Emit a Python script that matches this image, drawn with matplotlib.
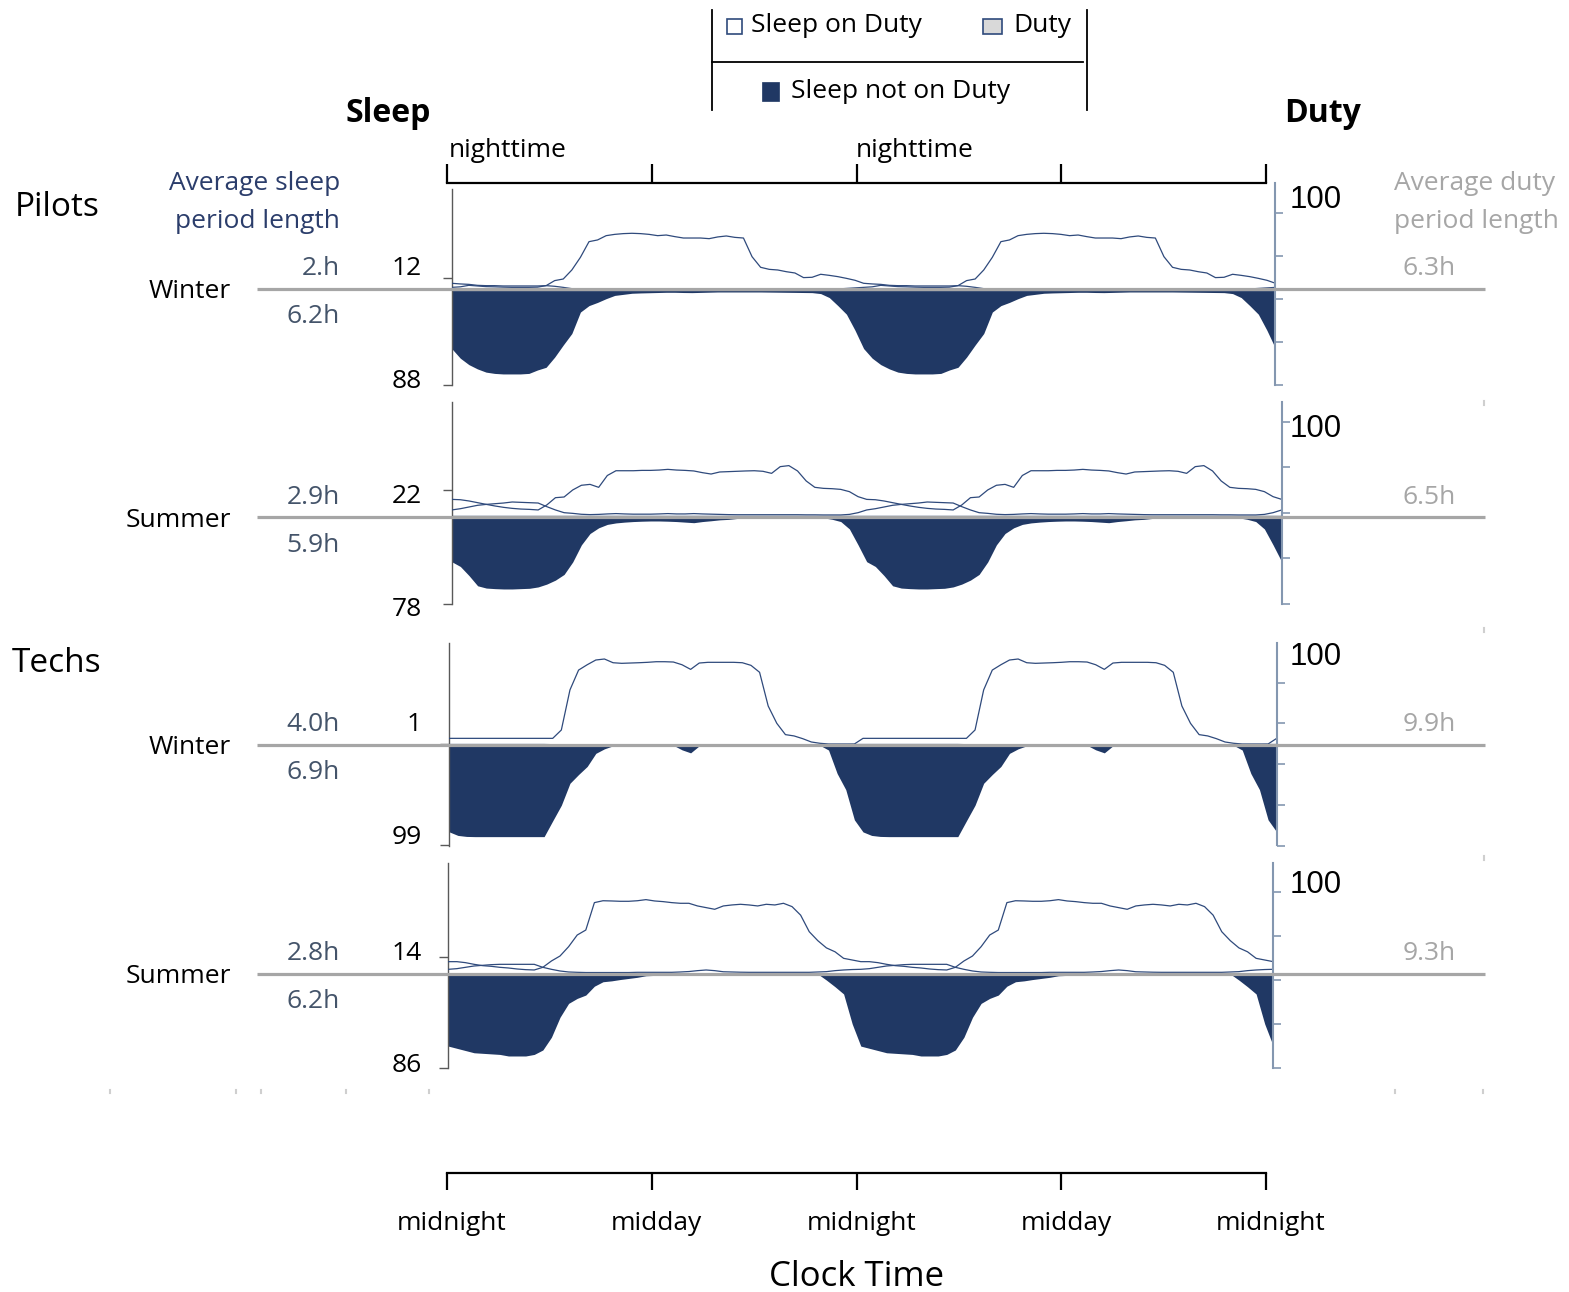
import numpy as np
import matplotlib
matplotlib.use("Agg")
import matplotlib.pyplot as plt
from matplotlib.patches import Rectangle
from matplotlib.transforms import ScaledTranslation

plt.rcParams['font.family'] = ['Open Sans', 'DejaVu Sans']

# ---------------- data (percent of people, 30-min bins, one day; chart is double-plotted) -------------
hours = np.arange(0, 24, 0.5)

pilots_winter_not_on_duty = [54, 63, 69, 73, 76, 77.2, 77.7, 77.7, 77.7, 77.2, 74, 71.5, 62, 50.7, 40, 20,
                             14, 11, 7.5, 4.5, 3.5, 2.5, 2.2, 2, 1.8, 1.6, 1.6, 1.8, 1.9, 1.7, 1.5, 1.3,
                             1.3, 1.3, 1.3, 1.3, 1.3, 1.4, 1.5, 1.6, 1.7, 1.8, 1.9, 2.8, 6.5, 14, 22, 37]
pilots_winter_on_duty = [3.0, 3.5, 4.9, 4.3, 3.7, 3.5, 3.2, 3.0, 3.0, 3.0, 3.2, 4.6, 4.0, 3.0, 1.8, 1.2,
                         0.6, 0.5, 0.5, 0.5, 0.5, 0.3, 0.3, 0.5, 0.5, 0.5, 0.5, 0.8, 1.5, 1.2, 0.5, 0.5,
                         0.5, 0.8, 0.8, 0.5, 0.5, 0.5, 0.5, 0.5, 0.5, 0.5, 0.5, 0.8, 1.0, 1.5, 2.0, 2.5]
pilots_winter_duty = [6.8, 6.2, 5.8, 4.9, 4.6, 4.6, 4.3, 4.3, 4.3, 4.3, 4.3, 4.6, 9.3, 10.8, 19.2, 31,
                      45.6, 47.2, 51.2, 52.4, 53.1, 53.4, 53.1, 52.4, 51.2, 51.8, 50.3, 49, 49, 49, 48.4, 50,
                      50.9, 49.6, 49, 31.6, 21.7, 19.8, 19.2, 17.6, 16.4, 12.1, 12.4, 15.2, 14.2, 13, 11.4, 9.6]

pilots_summer_not_on_duty = [40.8, 45, 53, 62, 64, 64.5, 64.8, 64.8, 64.5, 64.2, 63, 60.5, 57, 52, 41, 26,
                             16, 11, 8, 6.7, 6, 5.5, 5.2, 5, 5, 5.2, 5.5, 6, 6.5, 5.5, 4.8, 4,
                             3.6, 2.8, 2, 1.6, 1.3, 1.2, 1.2, 1.2, 1.2, 1.2, 1.5, 2.2, 3.5, 5.5, 12, 26]
pilots_summer_on_duty = [4.7, 5.8, 7.3, 8.8, 9.6, 10.2, 10.8, 11.7, 11.4, 11.1, 10.8, 7.6, 4.7, 2.3, 1.7, 0.9,
                         0.6, 0.8, 1.2, 1.5, 1.2, 1.0, 1.0, 1.0, 1.2, 1.5, 1.2, 1.2, 1.5, 1.2, 1.0, 0.8,
                         0.6, 0.5, 0.5, 0.5, 0.5, 0.5, 0.5, 0.5, 0.5, 0.4, 0.4, 0.3, 0.3, 0.3, 0.8, 2.3]
pilots_summer_duty = [14.0, 13.7, 12.6, 11.1, 9.6, 8.2, 7.0, 6.1, 5.5, 5.2, 4.7, 9.1, 15.5, 16.1, 22.3, 26.4,
                      27.2, 24.6, 35, 39.2, 39.2, 39.2, 39.5, 39.5, 39.8, 40.4, 39.8, 39.5, 39, 37.5, 36.3, 38.1,
                      38.4, 38.7, 39, 39.2, 38.7, 36.9, 42.8, 43.7, 39, 30.2, 24.6, 23.7, 23.4, 22.8, 20.8, 16.4]

techs_winter_not_on_duty = [86, 89.5, 90.5, 90.7, 90.7, 90.7, 90.7, 90.7, 90.7, 90.7, 90.7, 90.7, 75, 59.5, 37.7, 29,
                            21, 8, 3.5, 0.5, 0, 0, 0, 0, 0, 0, 0, 4.5, 7.5, 0.5, 0, 0,
                            0, 0, 0, 0, 0, 0, 0, 0, 0, 0, 0, 0, 4.7, 28, 44, 74]
techs_winter_on_duty = [0.8, 0.8, 0.8, 0.8, 0.8, 0.8, 0.8, 0.8, 0.8, 0.8, 0.8, 0.8, 0.6, 0.3, 0.1, 0.1,
                        0.1, 0.1, 0.1, 0.1, 0.1, 0.1, 0.1, 0.1, 0.1, 0.1, 0.1, 0.1, 0.1, 0.1, 0.1, 0.1,
                        0.1, 0.1, 0.1, 0.1, 0.1, 0.1, 0.1, 0.1, 0.1, 0.1, 0.1, 0.1, 0.3, 0.5, 0.6, 0.8]
techs_winter_duty = [6.9, 6.9, 6.9, 6.9, 6.9, 6.9, 6.9, 6.9, 6.9, 6.9, 6.9, 6.9, 6.9, 15.2, 55, 74.7,
                     80, 84.7, 85.7, 82, 81.4, 81.7, 82, 82.4, 83, 83, 82.7, 80, 75.4, 81.7, 82.4, 82.4,
                     82.4, 82.4, 82, 79.4, 72.5, 39, 21.8, 10.6, 9.3, 6.6, 3.3, 2, 1.3, 1.3, 1.3, 1.3]

techs_summer_not_on_duty = [66, 68, 70, 72, 72.5, 73, 73.5, 74.9, 74.9, 74.9, 73.5, 69.5, 58, 40, 27.5, 23,
                            20, 12, 8, 7.2, 6, 5, 4, 2.6, 2.3, 2, 2, 2, 2, 1.8, 1.8, 1.8,
                            1.8, 1.8, 1.8, 1.8, 1.8, 1.8, 1.8, 1.8, 1.8, 1.5, 1.2, 1, 6.5, 12.5, 19, 46]
techs_summer_on_duty = [3.2, 3.8, 5, 6.2, 6.8, 7.4, 7.7, 7.7, 7.7, 7.7, 7.7, 5, 3.2, 1.7, 0.8, 0.5,
                        0.3, 0.3, 0.3, 0.3, 0.3, 0.3, 0.5, 0.5, 0.5, 0.5, 0.5, 0.8, 1.2, 2.0, 2.6, 2.0,
                        1.0, 0.8, 0.6, 0.5, 0.5, 0.5, 0.5, 0.5, 0.5, 0.5, 0.5, 0.8, 1.1, 2.0, 2.6, 3.0]
techs_summer_duty = [10.1, 10.1, 9.2, 7.7, 6.5, 5.9, 5, 4.4, 3.5, 2.9, 2.6, 5, 10.7, 15.2, 23.6, 34.1,
                     38.6, 63.3, 65, 64.8, 64.5, 64.5, 65, 66, 64.8, 64.2, 63.3, 62.7, 62.7, 60.3, 58.8, 57.3,
                     60.3, 61.2, 61.8, 61.2, 60.3, 61.8, 61.2, 62.7, 59.7, 52, 37.1, 29, 22.5, 19, 13.1, 11.6]

groups = ["Pilots", "Techs"]
seasons = ["Winter", "Summer", "Winter", "Summer"]
left_tick_values = [(12, 88), (22, 78), (1, 99), (14, 86)]
sleep_len_labels = [("2.h", "6.2h"), ("2.9h", "5.9h"), ("4.0h", "6.9h"), ("2.8h", "6.2h")]
duty_len_labels = ["6.3h", "6.5h", "9.9h", "9.3h"]
clock_ticks = [0, 12, 24, 36, 48]
clock_labels = ["midnight", "midday", "midnight", "midday", "midnight"]

series = [
    (pilots_winter_not_on_duty, pilots_winter_on_duty, pilots_winter_duty),
    (pilots_summer_not_on_duty, pilots_summer_on_duty, pilots_summer_duty),
    (techs_winter_not_on_duty, techs_winter_on_duty, techs_winter_duty),
    (techs_summer_not_on_duty, techs_summer_on_duty, techs_summer_duty),
]

# ---------------- layout (pixel geometry of each panel) ----------------
W, H = 1569, 1292
geom = [
    dict(x0=451.7, x1=1275.5, zero=290.6, k=1.073, ltop=189.0, rtop=183.0, bot=385.0, r100=212.7, r0=385.0, gray=288.7),
    dict(x0=451.7, x1=1281.7, zero=515.3, k=1.137, ltop=401.7, rtop=401.7, bot=604.0, r100=421.7, r0=604.0, gray=517.3),
    dict(x0=449.3, x1=1276.7, zero=745.3, k=1.007, ltop=643.3, rtop=643.3, bot=845.5, r100=682.7, r0=846.0, gray=744.7),
    dict(x0=448.3, x1=1273.3, zero=972.9, k=1.110, ltop=862.7, rtop=862.7, bot=1068.3, r100=891.7, r0=1068.3, gray=973.5),
]
hundred_base = [208.5, 437.0, 665.0, 893.0]

NAVY = '#203864'
LINE = '#2f4a7c'
GRAY = '#a6a6a6'
BLUE_TXT = '#2b3d6b'
SLATE = '#44546a'
LSPINE = '#595959'
RSPINE = '#8497b0'
FS = 19


def rect(x0, y0, x1, y1):
    return [x0 / W, 1 - y1 / H, (x1 - x0) / W, (y1 - y0) / H]


def rep(v):
    v = np.asarray(v, dtype=float)
    return np.concatenate([v, v, v[:1]])


fig = plt.figure(figsize=(W / 100, H / 100), dpi=100)
xx = np.concatenate([hours, hours + 24, [48]])

for g, (notd, ond, duty), (tup, tdn) in zip(geom, series, left_tick_values):
    top = min(g['ltop'], g['rtop'])
    ax = fig.add_axes(rect(g['x0'], top, g['x1'], g['bot']))
    ax.set_xlim(0, 48)
    ylo = (g['zero'] - g['bot']) / g['k']
    yhi = (g['zero'] - top) / g['k']
    ax.set_ylim(ylo, yhi)
    ax.patch.set_alpha(0)
    ax.fill_between(xx, 0, -rep(notd), color=NAVY, lw=0, zorder=2)
    ax.plot(xx, rep(duty), color=LINE, lw=0.9, zorder=3)
    ax.plot(xx, rep(ond), color=LINE, lw=0.9, zorder=3)
    for s in ['top', 'bottom', 'right']:
        ax.spines[s].set_visible(False)
    ax.spines['left'].set_color(LSPINE)
    ax.spines['left'].set_linewidth(1.0)
    ax.spines['left'].set_bounds(ylo, (g['zero'] - g['ltop']) / g['k'])
    ax.set_xticks([])
    ax.set_yticks([tup, -tdn])
    ax.set_yticklabels([])
    ax.tick_params(axis='y', direction='out', length=6.5, width=1.0, color=LSPINE)

    ar = ax.twinx()
    span = g['r0'] - g['r100']
    rlo = (g['r0'] - g['bot']) / span * 100
    rhi = (g['r0'] - top) / span * 100
    ar.set_ylim(rlo, rhi)
    for s in ['top', 'bottom', 'left']:
        ar.spines[s].set_visible(False)
    ar.spines['right'].set_color(RSPINE)
    ar.spines['right'].set_linewidth(1.5)
    ar.spines['right'].set_bounds(rlo, (g['r0'] - g['rtop']) / span * 100)
    ar.set_yticks([0, 25, 50, 75, 100])
    ar.set_yticklabels([])
    ar.tick_params(axis='y', direction='out', length=6, width=1.2, color=RSPINE)

# ---------------- top "nighttime" bracket ----------------
tb = fig.add_axes(rect(447, 182.5, 1266, 183.5))
tb.set_xlim(0, 48)
tb.set_ylim(0, 1)
for s in ['bottom', 'left', 'right']:
    tb.spines[s].set_visible(False)
tb.spines['top'].set_linewidth(1.6)
tb.set_yticks([])
tb.xaxis.set_ticks_position('top')
tb.set_xticks(clock_ticks)
tb.set_xticklabels([])
tb.tick_params(axis='x', direction='out', length=13.5, width=1.6, color='black')
tb.patch.set_alpha(0)

# ---------------- bottom clock-time axis ----------------
cb = fig.add_axes(rect(447, 1171.5, 1266, 1172.5))
cb.set_xlim(0, 48)
cb.set_ylim(0, 1)
for s in ['top', 'left', 'right']:
    cb.spines[s].set_visible(False)
cb.spines['bottom'].set_linewidth(1.6)
cb.set_yticks([])
cb.set_xticks(clock_ticks)
cb.set_xticklabels(clock_labels, fontsize=FS)
cb.tick_params(axis='x', direction='out', length=12, width=1.6, color='black', pad=15.5)
for lab in cb.get_xticklabels():
    lab.set_transform(lab.get_transform() + ScaledTranslation(5 / 100, 0, fig.dpi_scale_trans))
cb.patch.set_alpha(0)

# ---------------- overlay (pixel coordinates) ----------------
ov = fig.add_axes([0, 0, 1, 1], zorder=10)
ov.set_xlim(0, W)
ov.set_ylim(H, 0)
ov.axis('off')


def txt(x, y, s, ha='left', size=FS, color='black', **kw):
    ov.text(x, y, s, ha=ha, va='baseline', fontsize=size, color=color, **kw)


for g, season, (up, dn), dl, (tup, tdn), hb in zip(geom, seasons, sleep_len_labels, duty_len_labels,
                                                  left_tick_values, hundred_base):
    gy = g['gray']
    ov.plot([257, 1485], [gy, gy], color=GRAY, lw=2.3, solid_capstyle='butt')
    txt(340, gy - 13.7, up, ha='right', color=SLATE)
    txt(340, gy + 34.3, dn, ha='right', color=SLATE)
    txt(231, gy + 9.6, season, ha='right')
    txt(1456, gy - 13.5, dl, ha='right', color=GRAY)
    txt(422, gy - 14, str(tup), ha='right')
    txt(422, gy + 99, str(tdn), ha='right')
    txt(1290, hb, "100", size=22.5, family=['Liberation Sans', 'DejaVu Sans'])

# faint leftover marks of the original layout
ART = '#cfcfcf'
for xa in [110, 236, 261, 346, 429, 1395, 1483]:
    ov.plot([xa, xa], [1090, 1093], color=ART, lw=1.5)
for ya in [403, 630, 858]:
    ov.plot([1484, 1484], [ya - 2, ya + 2], color=ART, lw=1.5)

txt(15, 216, groups[0], size=24)
txt(12, 672, groups[1], size=24)
txt(340, 189.5, "Average sleep", ha='right', color=BLUE_TXT)
txt(340, 228, "period length", ha='right', color=BLUE_TXT)
txt(1394, 189.5, "Average duty", color=GRAY)
txt(1394, 228, "period length", color=GRAY)
txt(388, 122, "Sleep", ha='center', size=23, fontweight='bold')
txt(1323, 122, "Duty", ha='center', size=23, fontweight='bold')
txt(449, 157, "nighttime")
txt(856, 157, "nighttime")
txt(857, 1286, "Clock Time", ha='center', size=25)

# legend box
ov.plot([711.5, 711.5], [10, 110], color='black', lw=1.3)
ov.plot([1087, 1087], [10, 110], color='black', lw=1.3)
ov.plot([711.5, 1083], [61.5, 61.5], color='black', lw=1.3)
ov.add_patch(Rectangle((727, 19), 15, 15, facecolor='white', edgecolor=LINE, lw=1.2))
ov.add_patch(Rectangle((983, 19), 19, 15, facecolor='#d9d9d9', edgecolor=LINE, lw=1.2))
ov.add_patch(Rectangle((762, 81.5), 17, 19.5, facecolor=NAVY, edgecolor=NAVY, lw=0.5))
txt(751, 31.5, "Sleep on Duty")
txt(1013, 31.5, "Duty")
txt(791, 98, "Sleep not on Duty")

fig.savefig("out.png", dpi=100)
